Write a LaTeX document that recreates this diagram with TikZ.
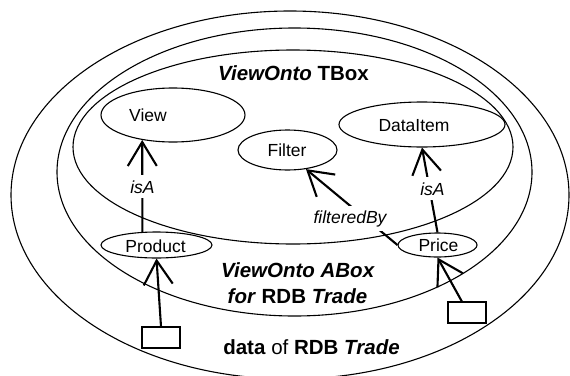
\documentclass[tikz,border=0pt]{standalone}
\usepackage{fontspec}
\setmainfont{Liberation Sans}
\usetikzlibrary{shapes.geometric,arrows.meta}
\begin{document}
\begin{tikzpicture}[x=1pt,y=-1pt,
  cont/.style={draw, ellipse, line width=1.1pt, inner sep=0pt},
  txt/.style={inner sep=0pt, anchor=base, font=\fontsize{17.5}{20}\selectfont},
  ttl/.style={inner sep=0pt, anchor=base, font=\fontsize{20.5}{24}\selectfont\bfseries},
  lbl/.style={fill=white, inner xsep=1pt, inner ysep=5pt, anchor=base, font=\fontsize{17.5}{20}\selectfont\itshape},
  arr/.style={line width=2.1pt, -{Straight Barb[length=24pt, width=29pt]}},
  rec/.style={draw, line width=1.1pt, minimum width=38pt, minimum height=21pt, inner sep=0pt}]
\useasboundingbox (0,0) rectangle (570,375);
% containers
\node[cont, minimum width=558pt, minimum height=368pt] (data) at (290,195) {};
\node[cont, minimum width=475pt, minimum height=288pt] (abox) at (294.5,172) {};
\node[cont, minimum width=440pt, minimum height=194pt] (tbox) at (293,147) {};
% classes and instances
\node[cont, minimum width=144pt, minimum height=54pt] (view) at (173,115) {};
\node[cont, minimum width=99pt, minimum height=40pt] (filter) at (287.5,150) {};
\node[cont, minimum width=166pt, minimum height=45pt] (dataitem) at (422,124.5) {};
\node[cont, minimum width=111pt, minimum height=26pt] (product) at (156.5,245) {};
\node[cont, minimum width=79pt, minimum height=24pt] (price) at (437.5,245) {};
% records
\node[rec] (pbox) at (161,337.5) {};
\node[rec] (prbox) at (467,312.5) {};
% connectors
\draw[arr] (product.137) -- (view.219);
\draw[arr] (price.north) -- (dataitem.south);
\draw[arr] (price.west) -- (filter.-46);
\draw[arr] (pbox.north) -- (product.south);
\draw[arr] (prbox.115) -- (price.south);
% connector labels
\node[lbl] (isa1) at (142.5,193) {isA};
\node[lbl] (isa2) at (432.5,195) {isA};
\node[lbl, inner ysep=4pt] (filt) at (350,223) {filteredBy};
% texts
\node[txt] (viewt) at (148,121) {View};
\node[txt] (filtert) at (287,156) {Filter};
\node[txt] (dataitemt) at (414,131) {DataItem};
\node[txt] (productt) at (155.5,252) {Product};
\node[txt] (pricet) at (438.5,251) {Price};
\node[ttl] (tboxt) at (293.5,80) {\textit{ViewOnto} TBox};
\node[ttl] (aboxt) at (298,277) {\textit{ViewOnto ABox}};
\node[ttl] (abox2t) at (297.5,303) {\textit{for} RDB \textit{Trade}};
\node[ttl] (datat) at (311.5,354) {data \textmd{of} RDB \textit{Trade}};
\end{tikzpicture}
\end{document}
